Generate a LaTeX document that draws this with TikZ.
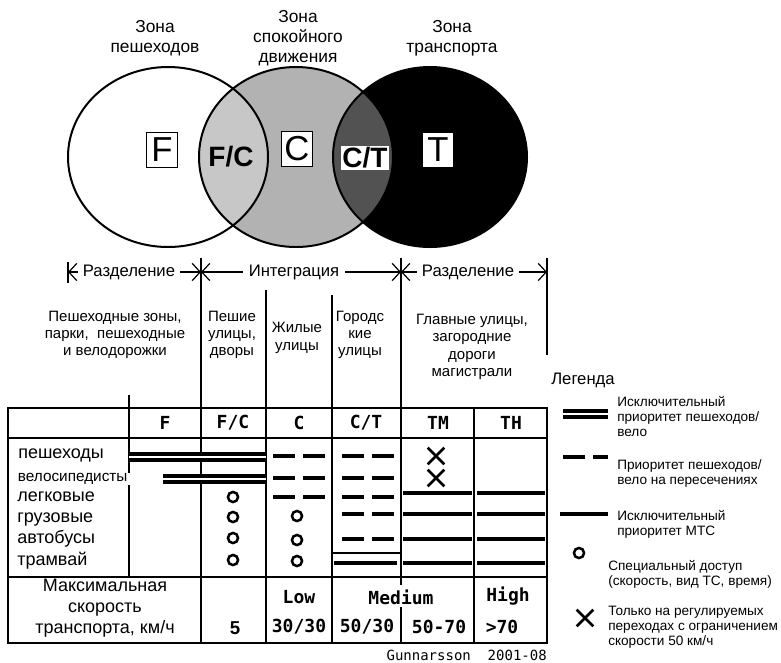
\documentclass[tikz,border=0pt]{standalone}
\usepackage{fontspec}
\setmainfont{Liberation Sans}
\newfontfamily\pixfont{DejaVu Sans Mono}
\usetikzlibrary{arrows.meta,shapes.misc}
\tikzset{
  zone/.style={line width=1.5pt},
  zonetitle/.style={align=center,font=\fontsize{13}{15}\selectfont},
  letterbox/.style={draw,fill=white,line width=1pt,inner sep=0pt,minimum width=23pt,minimum height=26.5pt,font=\fontsize{26}{26}\selectfont},
  lenslabel/.style={inner sep=1pt,font=\bfseries\fontsize{21}{21}\selectfont},
  band/.style={fill=white,inner xsep=4pt,font=\fontsize{12.5}{14}\selectfont},
  bandtip/.style={line width=0.9pt,{Straight Barb[length=6pt,width=13pt]}-{Straight Barb[length=6pt,width=13pt]}},
  streets/.style={align=center,font=\fontsize{11.25}{13}\selectfont},
  rule/.style={line width=0.9pt},
  colhead/.style={font=\pixfont\bfseries\fontsize{13.5}{13.5}\selectfont},
  user/.style={anchor=mid west,inner sep=0pt,font=\fontsize{13.5}{15}\selectfont},
  exclusive/.style={line width=2.6pt,double,double distance=1.6pt},
  priority/.style={line width=3pt,dash pattern=on 16.5pt off 6pt},
  motor/.style={line width=3pt},
  special/.style={circle,draw,line width=1.9pt,minimum size=7.6pt,inner sep=0pt},
  signal/.style={cross out,draw,line width=2pt,minimum size=10.5pt,inner sep=0pt},
  legendtext/.style={anchor=west,align=left,inner sep=0pt,font=\fontsize{10.2}{11.25}\selectfont},
}
\begin{document}
\begin{tikzpicture}[x=0.75pt,y=-0.75pt]
\useasboundingbox (0,0) rectangle (781,662);
% three zones
\fill[black!30] (296,157) ellipse [x radius=72.75pt,y radius=67.5pt];
\begin{scope}
  \clip (168,157) ellipse [x radius=75pt,y radius=67.5pt];
  \fill[black!22] (296,157) ellipse [x radius=72.75pt,y radius=67.5pt];
\end{scope}
\fill[black] (430,157) ellipse [x radius=72.75pt,y radius=67.5pt];
\begin{scope}
  \clip (296,157) ellipse [x radius=72.75pt,y radius=67.5pt];
  \fill[black!68] (430,157) ellipse [x radius=72.75pt,y radius=67.5pt];
\end{scope}
\draw[zone] (168,157) ellipse [x radius=75pt,y radius=67.5pt];
\draw[zone] (296,157) ellipse [x radius=72.75pt,y radius=67.5pt];
\draw[zone] (430,157) ellipse [x radius=72.75pt,y radius=67.5pt];
\node[zonetitle] (ped) at (155,38) {Зона\\пешеходов};
\node[zonetitle] (calm) at (298,38) {Зона\\спокойного\\движения};
\node[zonetitle] (traf) at (452,38) {Зона\\транспорта};
\node[letterbox] (F) at (162,150) {F};
\node[lenslabel] (FC) at (231,157) {F/C};
\node[letterbox] (C) at (297,149) {C};
\node[lenslabel,fill=white] (CT) at (365,158) {C/T};
\node[letterbox] (T) at (438,150) {T};
% separation / integration band
\coordinate (b0) at (68,272);
\coordinate (b1) at (201,272);
\coordinate (b2) at (401,272);
\coordinate (b3) at (547,272);
\draw[bandtip] (b0) -- (b1);
\draw[bandtip] (b1) -- (b2);
\draw[bandtip] (b2) -- (b3);
\draw[rule] (68,262) -- (68,283);
\draw[rule] (547,258) -- (547,355);
\node[band] (sep1) at (129,272) {Разделение};
\node[band] (integ) at (294,272) {Интеграция};
\node[band] (sep2) at (468,272) {Разделение};
% street types
\node[streets] (pedzone) at (115,335) {Пешеходные зоны,\\парки,\ \ пешеходные\\и велодорожки};
\node[streets] (pedstreet) at (232,335) {Пешие\\улицы,\\дворы};
\node[streets] (living) at (297,338) {Жилые\\улицы};
\node[streets] (urban) at (360,335) {Городс\\кие\\улицы};
\node[streets] (main) at (472,347) {Главные улицы,\\загородние\\дороги\\магистрали};
% table
\draw[rule] (201,258) -- (201,643);
\draw[rule] (401,258) -- (401,585) (401,607) -- (401,643);
\draw[rule] (266,290) -- (266,643);
\draw[rule] (332,295) -- (332,643);
\draw[rule] (129,395) -- (129,577);
\draw[rule] (474,408) -- (474,643);
\draw[rule] (8,408) rectangle (547,643);
\draw[rule] (8,438) -- (547,438) (8,577) -- (547,577) (332,553) -- (401,553);
\node[colhead] (hF) at (165,423) {F};
\node[colhead] (hFC) at (233,423) {F/C};
\node[colhead] (hC) at (299,423) {C};
\node[colhead] (hCT) at (366,423) {C/T};
\node[colhead] (hTM) at (438,423) {TM};
\node[colhead] (hTH) at (511,423) {TH};
\node[user] (walk) at (18,455) {пешеходы};
\node[user,fill=white,inner xsep=2pt,font=\fontsize{11.5}{13}\selectfont] (bike) at (15,478) {велосипедисты};
\node[user] (car) at (17,498) {легковые};
\node[user] (truck) at (17,519) {грузовые};
\node[user] (bus) at (17,540) {автобусы};
\node[user] (tram) at (17,562) {трамвай};
\draw[exclusive] (129,457) -- (266,457);
\draw[exclusive] (163,479) -- (266,479);
\draw[priority] (273,456) -- (326,456);
\draw[priority] (273,478) -- (326,478);
\draw[priority] (273,497) -- (326,497);
\draw[priority] (342,456) -- (395,456);
\draw[priority] (342,478) -- (395,478);
\draw[priority] (342,497) -- (395,497);
\draw[priority] (342,514) -- (395,514);
\draw[priority] (342,539) -- (395,539);
\draw[motor] (334,563) -- (397,563);
\draw[motor] (403,493) -- (472,493) (477,493) -- (545,493);
\draw[motor] (403,514) -- (472,514) (477,514) -- (545,514);
\draw[motor] (403,539) -- (472,539) (477,539) -- (545,539);
\draw[motor] (403,563) -- (472,563) (477,563) -- (545,563);
\node[special] (fc1) at (233,497) {};
\node[special] (fc2) at (233,517) {};
\node[special] (fc3) at (233,538) {};
\node[special] (fc4) at (233,560) {};
\node[special] (c2) at (297,516) {};
\node[special] (c3) at (297,540) {};
\node[special] (c4) at (297,561) {};
\node[signal] (tm1) at (436,456) {};
\node[signal] (tm2) at (436,478) {};
% speeds
\node[align=center,font=\fontsize{13.5}{15.75}\selectfont] (speed) at (105,608) {Максимальная\\скорость\\транспорта, км/ч};
\node[font=\bfseries\fontsize{14}{14}\selectfont] (v5) at (235,628) {5};
\node[colhead] (low) at (299,597) {Low};
\node[colhead] (medium) at (401,597) {Medium};
\node[colhead] (high) at (508,596) {High};
\node[colhead] (v30) at (299,627) {30/30};
\node[colhead] (v50) at (367,627) {50/30};
\node[colhead] (v70) at (439,627) {50-70};
\node[colhead] (vmax) at (502,627) {>70};
\node[anchor=east,inner sep=0pt,font=\pixfont\fontsize{10.5}{12}\selectfont] (src) at (547,655) {Gunnarsson\ \ 2001-08};
% legend
\node[font=\fontsize{12.5}{14}\selectfont] (legend) at (583,380) {Легенда};
\draw[exclusive] (563,414) -- (608,414);
\node[legendtext] (lexcl) at (617,417) {Исключительный\\приоритет пешеходов/\\вело};
\draw[priority] (563,457) -- (608,457);
\node[legendtext] (lprio) at (617,473) {Приоритет пешеходов/\\вело на пересечениях};
\draw[motor] (560,514) -- (608,514);
\node[legendtext] (lmotor) at (617,524) {Исключительный\\приоритет МТС};
\node[special] (lcirc) at (579,553) {};
\node[legendtext] (lspec) at (608,574) {Специальный доступ\\(скорость, вид ТС, время)};
\node[signal] (lcross) at (585,618) {};
\node[legendtext] (lsig) at (608,627) {Только на регулируемых\\переходах с ограничением\\скорости 50 км/ч};
\end{tikzpicture}
\end{document}
